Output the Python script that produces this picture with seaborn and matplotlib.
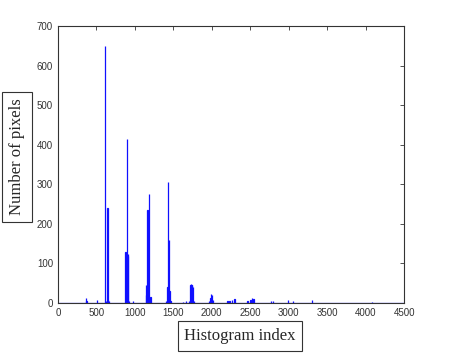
import numpy as np
import pandas as pd
import matplotlib
matplotlib.use("Agg")
import matplotlib.pyplot as plt
import seaborn as sns

# non-empty histogram bins (index, number of pixels)
bin_index = [365, 372, 505,
             612, 625, 640, 648, 660,
             875, 885, 897, 905, 910, 920, 975,
             1140, 1148, 1155, 1161, 1170, 1187, 1195, 1200,
             1400, 1421, 1426, 1434, 1443, 1450, 1460,
             1620, 1660, 1700, 1722, 1728, 1735, 1742, 1750, 1765,
             1960, 1980, 1990, 2000, 2010,
             2200, 2230, 2260, 2290,
             2460, 2500, 2520, 2540,
             2770, 2790, 2990, 3050, 3300, 4080]
bin_count = [12, 5, 8,
             650, 6, 240, 8, 5,
             130, 125, 415, 125, 120, 5, 6,
             20, 45, 30, 235, 15, 275, 10, 15,
             5, 40, 30, 305, 160, 30, 5,
             3, 4, 5, 45, 47, 45, 46, 40, 4,
             5, 12, 22, 20, 8,
             4, 6, 8, 10,
             5, 8, 12, 10,
             4, 6, 8, 6, 8, 3]

x_ticks = [0, 500, 1000, 1500, 2000, 2500, 3000, 3500, 4000, 4500]
y_ticks = [0, 100, 200, 300, 400, 500, 600, 700]

df = pd.DataFrame({"index": bin_index, "count": bin_count})

sns.set_style("white")

fig = plt.figure(figsize=(4.63, 3.53), dpi=100)
ax = fig.add_axes([0.125, 0.1416, 0.748, 0.7847])

sns.histplot(data=df, x="index", weights="count", binwidth=5, binrange=(0, 4500),
             color="#0000ff", edgecolor="#1010ff", linewidth=0.9, alpha=1,
             ax=ax)

ax.set_xlim(0, 4500)
ax.set_ylim(0, 700)
ax.set_xticks(x_ticks)
ax.set_yticks(y_ticks)
ax.set_xlabel("")
ax.set_ylabel("")
ax.tick_params(direction="in", length=3, width=0.6, top=True, right=True,
               labelsize=7, labelcolor="#333333", colors="#333333")
for lbl in ax.get_xticklabels() + ax.get_yticklabels():
    lbl.set_fontfamily("Liberation Sans")
for s in ax.spines.values():
    s.set_color("#333333")
    s.set_linewidth(0.8)

box = dict(boxstyle="square,pad=0.4", facecolor="white", edgecolor="#333333", linewidth=0.8)
fig.text(240 / 463, 1 - 336 / 353, "Histogram index", family="Liberation Serif",
         fontsize=12, ha="center", va="center", bbox=box)
fig.text(17 / 463, 1 - 157 / 353, "Number of pixels", family="Liberation Serif",
         fontsize=12, ha="center", va="center", rotation=90, bbox=box)

fig.savefig("out.png", dpi=100)
